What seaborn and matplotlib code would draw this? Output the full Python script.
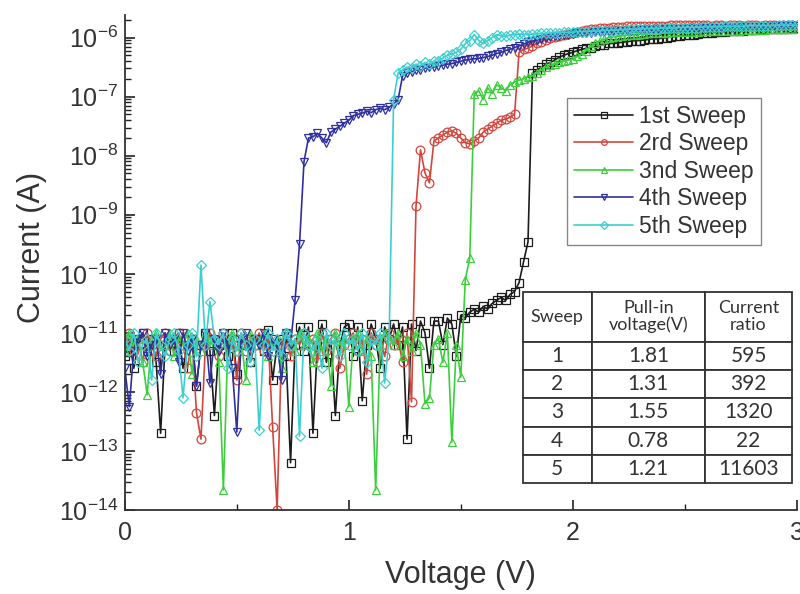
import numpy as np
import pandas as pd
import seaborn as sns
import matplotlib
matplotlib.use("Agg")
import matplotlib.pyplot as plt
from matplotlib.ticker import LogLocator, FuncFormatter, MultipleLocator, NullFormatter

# ---------------- data ----------------
voltage = np.round(np.arange(151) * 0.02, 2)   # sweep grid, 0 .. 3 V

sweep_labels = ["1st Sweep", "2rd Sweep", "3nd Sweep", "4th Sweep", "5th Sweep"]

# log10 of current (A) at each voltage step
sweep1_log_current = [
    -11.4, -11.1, -11.6, -11.2, -11.0, -11.3, -11.1, -11.5, -12.7, -11.2,
    -11.1, -11.3, -11.0, -11.6, -11.2, -11.1, -11.9, -11.2, -11.0, -11.3,
    -12.4, -11.2, -11.1, -11.4, -11.0, -11.7, -11.2, -11.1, -11.5, -11.2,
    -11.1, -11.3, -10.95, -11.8, -11.2, -11.1, -11.4, -13.2, -11.2, -10.9,
    -11.3, -10.9, -12.7, -11.2, -10.85, -11.5, -11.1, -12.4, -11.2, -10.9,
    -10.85, -11.4, -10.9, -12.15, -11.2, -10.85, -11.1, -11.6, -10.9, -11.1,
    -10.85, -11.2, -10.9, -12.8, -10.85, -11.3, -10.8, -11.0, -11.6, -10.8,
    -10.8, -11.2, -10.75, -10.85, -11.4, -10.7, -10.75, -10.65, -10.6, -10.65,
    -10.55, -10.6, -10.5, -10.45, -10.4, -10.45, -10.35, -10.3, -10.15, -9.8,
    -9.46, -6.6, -6.55, -6.5, -6.45, -6.42, -6.38, -6.33, -6.3, -6.27,
    -6.25, -6.22, -6.2, -6.18, -6.17, -6.15, -6.13, -6.12, -6.1, -6.1,
    -6.09, -6.08, -6.07, -6.06, -6.05, -6.05, -6.04, -6.03, -6.02, -6.02,
    -6.01, -6.0, -5.99, -5.98, -5.97, -5.96, -5.95, -5.95, -5.94, -5.93,
    -5.92, -5.92, -5.91, -5.9, -5.9, -5.89, -5.89, -5.88, -5.88, -5.87,
    -5.87, -5.87, -5.86, -5.86, -5.86, -5.85, -5.85, -5.85, -5.85, -5.84,
    -5.84,
]
sweep2_log_current = [
    -11.2, -11.0, -11.3, -11.1, -11.5, -11.0, -11.2, -11.4, -11.1, -11.0,
    -11.3, -11.1, -11.0, -11.2, -11.6, -11.1, -12.35, -12.8, -11.2, -11.0,
    -11.1, -11.4, -11.0, -11.2, -11.1, -11.8, -11.0, -11.3, -11.1, -11.2,
    -11.0, -11.3, -11.1, -12.6, -14.0, -11.2, -11.0, -11.4, -11.1, -11.2,
    -11.0, -11.2, -11.1, -11.5, -11.0, -11.3, -11.1, -11.0, -11.6, -11.2,
    -11.1, -11.0, -11.3, -11.1, -11.7, -11.0, -11.2, -11.1, -11.4, -11.0,
    -11.2, -11.1, -11.5, -11.0, -12.17, -8.86, -7.9, -8.29, -8.46, -7.75,
    -7.7, -7.65, -7.6, -7.58, -7.62, -7.7, -7.78, -7.8, -7.75, -7.7,
    -7.6, -7.55, -7.5, -7.45, -7.4, -7.38, -7.35, -7.3, -6.25, -6.2,
    -6.18, -6.14, -6.1, -6.07, -6.04, -6.01, -5.99, -5.97, -5.95, -5.94,
    -5.92, -5.9, -5.88, -5.87, -5.86, -5.85, -5.84, -5.83, -5.83, -5.82,
    -5.82, -5.82, -5.81, -5.81, -5.81, -5.8, -5.8, -5.8, -5.8, -5.8,
    -5.8, -5.8, -5.79, -5.79, -5.79, -5.79, -5.79, -5.79, -5.79, -5.79,
    -5.79, -5.8, -5.79, -5.79, -5.8, -5.79, -5.79, -5.79, -5.8, -5.79,
    -5.79, -5.79, -5.8, -5.79, -5.79, -5.79, -5.8, -5.79, -5.79, -5.79,
    -5.8,
]
sweep3_log_current = [
    -11.3, -11.0, -11.2, -11.1, -11.5, -12.05, -11.1, -11.0, -11.3, -11.2,
    -11.0, -11.4, -11.1, -11.2, -11.0, -11.7, -11.1, -11.3, -11.0, -11.2,
    -11.1, -11.5, -13.66, -11.2, -11.0, -11.3, -11.1, -11.8, -11.0, -11.2,
    -11.1, -11.0, -11.4, -11.2, -11.1, -11.6, -11.0, -11.2, -11.3, -11.0,
    -11.2, -11.1, -11.5, -11.0, -11.3, -11.1, -11.9, -11.0, -11.2, -11.1,
    -12.25, -11.1, -11.0, -11.3, -11.1, -11.4, -13.66, -11.2, -11.0, -11.1,
    -11.2, -11.0, -11.4, -11.1, -11.3, -11.0, -11.2, -12.2, -12.1, -11.2,
    -11.1, -11.5, -11.0, -12.85, -11.2, -11.75, -10.1, -9.73, -6.95, -6.9,
    -7.05, -6.85, -6.95, -6.8, -6.85, -6.9, -6.8, -6.75, -6.72, -6.7,
    -6.66, -6.65, -6.6, -6.55, -6.5, -6.47, -6.45, -6.42, -6.4, -6.38,
    -6.37, -6.32, -6.28, -6.22, -6.15, -6.1, -6.06, -6.03, -6.0, -5.99,
    -5.98, -5.97, -5.96, -5.95, -5.95, -5.94, -5.94, -5.93, -5.93, -5.92,
    -5.92, -5.92, -5.91, -5.91, -5.91, -5.9, -5.9, -5.9, -5.9, -5.89,
    -5.89, -5.89, -5.89, -5.88, -5.88, -5.88, -5.88, -5.88, -5.87, -5.87,
    -5.87, -5.87, -5.87, -5.87, -5.86, -5.86, -5.86, -5.86, -5.86, -5.86,
    -5.86,
]
sweep4_log_current = [
    -11.6, -12.25, -11.3, -11.1, -11.0, -11.4, -11.2, -11.1, -11.7, -11.0,
    -11.2, -11.1, -11.5, -11.0, -11.3, -11.1, -11.9, -11.2, -11.0, -11.85,
    -11.1, -11.3, -11.0, -11.2, -11.6, -12.68, -11.1, -11.0, -11.3, -11.1,
    -11.2, -11.0, -11.4, -11.1, -11.2, -11.8, -11.0, -11.2, -10.45, -9.5,
    -8.1, -7.7, -7.68, -7.62, -7.7, -7.78, -7.6, -7.55, -7.5, -7.45,
    -7.4, -7.32, -7.3, -7.28, -7.25, -7.27, -7.22, -7.2, -7.22, -7.18,
    -7.12, -7.05, -6.65, -6.6, -6.58, -6.55, -6.55, -6.52, -6.5, -6.5,
    -6.48, -6.47, -6.45, -6.44, -6.42, -6.4, -6.38, -6.37, -6.36, -6.35,
    -6.34, -6.32, -6.3, -6.27, -6.25, -6.22, -6.2, -6.17, -6.14, -6.11,
    -6.08, -6.06, -6.04, -6.02, -6.0, -5.99, -5.98, -5.97, -5.96, -5.95,
    -5.94, -5.93, -5.93, -5.92, -5.92, -5.91, -5.91, -5.9, -5.9, -5.89,
    -5.89, -5.89, -5.88, -5.88, -5.88, -5.87, -5.87, -5.87, -5.86, -5.86,
    -5.86, -5.86, -5.85, -5.85, -5.85, -5.85, -5.84, -5.84, -5.84, -5.84,
    -5.84, -5.84, -5.83, -5.83, -5.83, -5.83, -5.83, -5.83, -5.82, -5.82,
    -5.82, -5.82, -5.82, -5.82, -5.82, -5.81, -5.81, -5.81, -5.81, -5.81,
    -5.81,
]
sweep5_log_current = [
    -11.1, -11.3, -11.0, -11.5, -11.2, -11.1, -11.8, -11.0, -11.2, -11.4,
    -11.1, -11.0, -11.3, -12.1, -11.2, -11.0, -11.4, -9.85, -11.2, -10.47,
    -11.1, -11.2, -11.0, -11.6, -11.1, -11.3, -11.0, -11.2, -11.5, -11.1,
    -12.65, -11.2, -11.0, -11.3, -11.1, -11.4, -11.0, -11.2, -11.1, -12.75,
    -11.0, -11.2, -11.3, -11.1, -11.6, -11.0, -11.2, -11.1, -11.4, -11.0,
    -11.2, -11.1, -11.3, -11.0, -11.5, -11.1, -11.2, -11.0, -11.85, -11.1,
    -7.05, -6.6, -6.55, -6.5, -6.52, -6.45, -6.48, -6.42, -6.45, -6.4,
    -6.4, -6.35, -6.3, -6.28, -6.25, -6.2, -6.1, -6.05, -5.95, -6.05,
    -6.1, -6.05, -6.0, -5.95, -5.97, -5.98, -5.96, -5.95, -5.94, -5.95,
    -5.95, -5.94, -5.94, -5.93, -5.93, -5.92, -5.92, -5.92, -5.91, -5.91,
    -5.91, -5.9, -5.9, -5.9, -5.89, -5.89, -5.89, -5.88, -5.88, -5.88,
    -5.87, -5.87, -5.87, -5.86, -5.86, -5.86, -5.85, -5.85, -5.85, -5.85,
    -5.84, -5.84, -5.84, -5.84, -5.83, -5.83, -5.83, -5.83, -5.83, -5.82,
    -5.82, -5.82, -5.82, -5.82, -5.81, -5.81, -5.81, -5.81, -5.81, -5.8,
    -5.8, -5.8, -5.8, -5.8, -5.8, -5.8, -5.79, -5.79, -5.79, -5.79,
    -5.79,
]

table_header = ["Sweep", "Pull-in\nvoltage(V)", "Current\nratio"]
table_sweep = ["1", "2", "3", "4", "5"]
table_pullin = ["1.81", "1.31", "1.55", "0.78", "1.21"]
table_ratio = ["595", "392", "1320", "22", "11603"]

# ---------------- styling ----------------
sweep_colors = ["#1c1c1c", "#d2463c", "#3ccf3c", "#2f2f9f", "#3ccfcf"]
sweep_markers = ["s", "o", "^", "v", "D"]
sweep_msizes = [6.3, 6.3, 6.3, 6.3, 5.6]

sns.set_style("ticks")
plt.rcParams["font.family"] = ["Liberation Sans", "DejaVu Sans"]

fig = plt.figure(figsize=(8.0, 5.94), dpi=100)
ax = fig.add_axes([0.156, 0.1414, 0.84, 0.834])

all_logs = [sweep1_log_current, sweep2_log_current, sweep3_log_current,
            sweep4_log_current, sweep5_log_current]

frames = []
for lab, logs in zip(sweep_labels, all_logs):
    frames.append(pd.DataFrame({"Voltage": voltage,
                                "Current": np.power(10.0, np.array(logs)),
                                "Sweep": lab}))
df = pd.concat(frames, ignore_index=True)

for lab, col, mk, ms in zip(sweep_labels, sweep_colors, sweep_markers, sweep_msizes):
    sub = df[df["Sweep"] == lab]
    sns.lineplot(data=sub, x="Voltage", y="Current", ax=ax, estimator=None,
                 sort=False, color=col, linewidth=1.2, marker=mk,
                 markersize=ms, markerfacecolor="none", markeredgecolor=col,
                 markeredgewidth=0.9, label=lab)

ax.set_yscale("log")
ax.set_xlim(0, 3)
ax.set_ylim(1e-14, 2.45e-6)

ax.xaxis.set_major_locator(MultipleLocator(1))
ax.xaxis.set_minor_locator(MultipleLocator(0.5))
ax.yaxis.set_major_locator(LogLocator(base=10, numticks=20))
ax.yaxis.set_minor_locator(LogLocator(base=10, subs=np.arange(2, 10), numticks=200))
ax.yaxis.set_minor_formatter(NullFormatter())
ax.yaxis.set_major_formatter(FuncFormatter(
    lambda v, p: r"$\mathregular{10^{%d}}$" % int(round(np.log10(v)))))

ax.tick_params(axis="both", which="major", direction="in", length=7,
               width=1.2, labelsize=18, colors="#222222", pad=5)
ax.tick_params(axis="both", which="minor", direction="in", length=4,
               width=1.0, colors="#222222")
ax.tick_params(axis="x", which="major", pad=8)
for t in ax.get_xticklabels() + ax.get_yticklabels():
    t.set_color("#333333")

for s in ["top", "right"]:
    ax.spines[s].set_visible(False)
for s in ["left", "bottom"]:
    ax.spines[s].set_linewidth(1.3)
    ax.spines[s].set_color("#333333")

ax.set_xlabel("Voltage (V)", fontsize=22, color="#333333", labelpad=11)
ax.set_ylabel("Current (A)", fontsize=22, color="#333333", labelpad=8)
ax.yaxis.label.set_y(0.53)

leg = ax.legend(loc="upper left", bbox_to_anchor=(0.658, 0.832),
                fontsize=16.5, frameon=True, fancybox=False, framealpha=1,
                edgecolor="#888888", handlelength=2.6, handletextpad=0.25,
                borderpad=0.3, labelspacing=0.2, markerscale=0.65,
                borderaxespad=0)
leg.get_frame().set_linewidth(1.0)
for t in leg.get_texts():
    t.set_color("#333333")

# ---------------- table ----------------
cell_text = [[a, b, c] for a, b, c in zip(table_sweep, table_pullin, table_ratio)]
tbl = ax.table(cellText=cell_text, colLabels=table_header,
               cellLoc="center", colLoc="center",
               colWidths=[0.2565, 0.42, 0.3235],
               bbox=[0.592, 0.0545, 0.401, 0.386])
tbl.auto_set_font_size(False)
tbl.set_zorder(10)
header_h = 50.0
row_h = 28.2
total = header_h + 5 * row_h
for (r, c), cell in tbl.get_celld().items():
    cell.set_linewidth(1.3)
    cell.set_edgecolor("#333333")
    cell.set_facecolor("white")
    txt = cell.get_text()
    txt.set_fontfamily(["Lato", "DejaVu Sans"])
    txt.set_color("#333333")
    if r == 0:
        cell.set_height(header_h / total * 0.386)
        txt.set_fontsize(13)
        txt.set_linespacing(1.05)
    else:
        cell.set_height(row_h / total * 0.386)
        txt.set_fontsize(15)

fig.savefig("out.png", dpi=100, facecolor="white")
